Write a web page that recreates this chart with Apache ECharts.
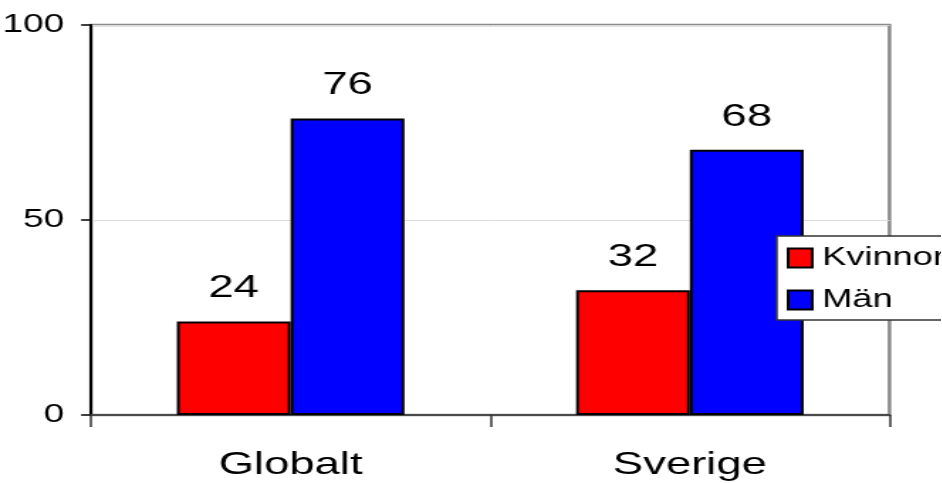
<!DOCTYPE html>
<html>
<head>
<meta charset="utf-8">
<script src="https://cdn.jsdelivr.net/npm/echarts@6/dist/echarts.min.js"></script>
<style>
  html, body { margin: 0; padding: 0; background: #fff; overflow: hidden; }
  /* the chart is laid out narrow and widened, giving the broad lettering */
  #chart { width: 663.4px; height: 483px; transform: scaleX(1.42); transform-origin: 0 0; }
</style>
</head>
<body>
<div id="chart"></div>
<script>
const categories = ['Globalt', 'Sverige'];
const kvinnor = [24, 32];
const man = [76, 68];
const seriesNames = ['Kvinnor', 'Män'];
const yTicks = { min: 0, max: 100, interval: 50 };

const FONT = '"Liberation Sans", Arial, sans-serif';

const chart = echarts.init(document.getElementById('chart'), null, { renderer: 'canvas' });

const barLabel = {
  show: true,
  position: 'top',
  distance: 17,
  color: '#000',
  fontFamily: FONT,
  fontSize: 32
};

chart.setOption({
  animation: false,
  backgroundColor: '#fff',
  grid: {
    left: 64.1, right: 36.6, top: 25, bottom: 68,
    outerBoundsMode: 'none',
    containLabel: false,
    show: true,
    borderColor: '#8a8a8a',
    borderWidth: 2.5,
    backgroundColor: '#fff'
  },
  legend: {
    data: seriesNames,
    orient: 'vertical',
    left: 547,
    top: 236,
    padding: [9, 30, 7, 7],
    itemGap: 16,
    itemWidth: 17,
    itemHeight: 19,
    icon: 'rect',
    backgroundColor: '#fff',
    borderColor: '#333',
    borderWidth: 1.5,
    borderRadius: 0,
    itemStyle: { borderColor: '#000', borderWidth: 2 },
    textStyle: { color: '#000', fontFamily: FONT, fontSize: 25.5, padding: [0, 0, 0, 2] }
  },
  xAxis: {
    type: 'category',
    data: categories,
    axisLine: { show: true, lineStyle: { color: '#4a4a4a', width: 2 } },
    axisTick: { show: true, alignWithLabel: false, inside: false, length: 12, lineStyle: { color: '#333', width: 1.5 } },
    axisLabel: { color: '#000', fontFamily: FONT, fontSize: 32, margin: 34 },
    splitLine: { show: false }
  },
  yAxis: {
    type: 'value',
    min: yTicks.min,
    max: yTicks.max,
    interval: yTicks.interval,
    axisLine: { show: true, lineStyle: { color: '#000', width: 2 } },
    axisTick: { show: true, length: 7, lineStyle: { color: '#000', width: 1.5 } },
    axisLabel: { color: '#000', fontFamily: FONT, fontSize: 26, margin: 19 },
    splitLine: { show: true, lineStyle: { color: '#dcdcdc', width: 1 } }
  },
  series: [
    {
      name: seriesNames[0],
      type: 'bar',
      data: kvinnor,
      barWidth: '28.5%',
      barGap: '0%',
      itemStyle: { color: '#ff0000', borderColor: '#000', borderWidth: 2 },
      label: barLabel
    },
    {
      name: seriesNames[1],
      type: 'bar',
      data: man,
      barWidth: '28.5%',
      barGap: '0%',
      itemStyle: { color: '#0000ff', borderColor: '#000', borderWidth: 2 },
      label: barLabel
    }
  ]
});
</script>
</body>
</html>
